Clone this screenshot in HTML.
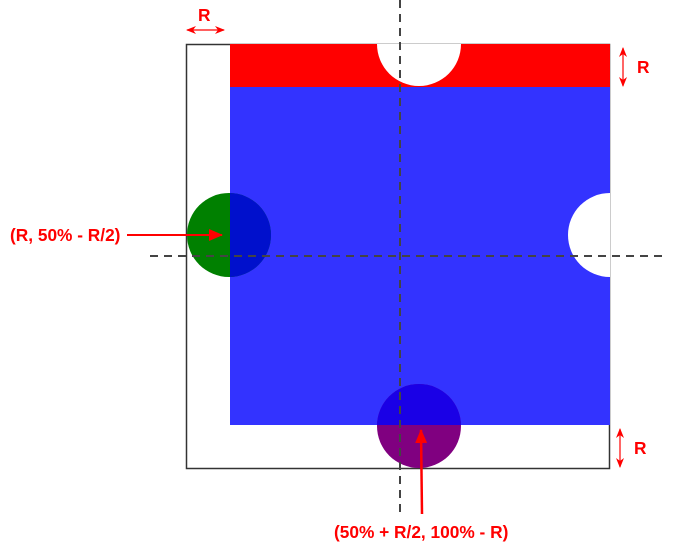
<!DOCTYPE html>
<html><head><meta charset="utf-8"><style>
html,body{margin:0;padding:0;background:#fff;width:695px;height:548px;overflow:hidden}
text{font-family:"Liberation Sans",sans-serif;font-weight:bold;fill:#f00}
</style></head><body>
<svg width="695" height="548" viewBox="0 0 695 548" xmlns="http://www.w3.org/2000/svg">
<defs>
<marker id="ah" markerWidth="14" markerHeight="12" refX="13" refY="6" orient="auto" markerUnits="userSpaceOnUse">
<path d="M0,0 L14,6 L0,12 z" fill="#f00"/></marker>
<marker id="sa" markerWidth="10" markerHeight="8" refX="9" refY="4" orient="auto-start-reverse" markerUnits="userSpaceOnUse">
<path d="M0,0 L10,4 L0,8 L3,4 z" fill="#f00"/></marker>
<clipPath id="blueclip"><rect x="230" y="87" width="380" height="338"/></clipPath>
<clipPath id="outclip"><rect x="186" y="44" width="424" height="424"/></clipPath>
</defs>
<rect x="186.5" y="44.5" width="423" height="424" fill="#fff" stroke="#333" stroke-width="1.5"/>
<rect x="230" y="44" width="380" height="43" fill="#f00"/>
<rect x="230" y="87" width="380" height="338" fill="#3333ff"/>
<g clip-path="url(#outclip)">
<circle cx="419" cy="44" r="42" fill="#fff"/>
<circle cx="610" cy="235" r="42" fill="#fff"/>
<circle cx="229" cy="235" r="42" fill="#008000"/>
<circle cx="419" cy="426" r="42" fill="#800080"/>
</g>
<g clip-path="url(#blueclip)">
<circle cx="229" cy="235" r="42" fill="#0010cc"/>
<circle cx="419" cy="426" r="42" fill="#1a00e6"/>
</g>
<line x1="400" y1="0" x2="400" y2="512" stroke="#444" stroke-width="2" stroke-dasharray="8,6"/>
<line x1="150" y1="256" x2="662" y2="256" stroke="#444" stroke-width="2" stroke-dasharray="8,6"/>
<line x1="127" y1="235" x2="222" y2="235" stroke="#f00" stroke-width="2" marker-end="url(#ah)"/>
<line x1="422" y1="514" x2="421" y2="430" stroke="#f00" stroke-width="2.5" marker-end="url(#ah)"/>
<line x1="187" y1="30" x2="224" y2="30" stroke="#f00" stroke-width="1.2" marker-start="url(#sa)" marker-end="url(#sa)"/>
<line x1="623" y1="48" x2="623" y2="86" stroke="#f00" stroke-width="1.2" marker-start="url(#sa)" marker-end="url(#sa)"/>
<line x1="620" y1="429" x2="620" y2="467" stroke="#f00" stroke-width="1.2" marker-start="url(#sa)" marker-end="url(#sa)"/>
<text x="198" y="21" font-size="17.3">R</text>
<text x="637" y="73" font-size="17.3">R</text>
<text x="634" y="454" font-size="17.3">R</text>
<text x="10" y="241" font-size="17.3">(R, 50% - R/2)</text>
<text x="334" y="538" font-size="17.3">(50% + R/2, 100% - R)</text>
</svg>
</body></html>
